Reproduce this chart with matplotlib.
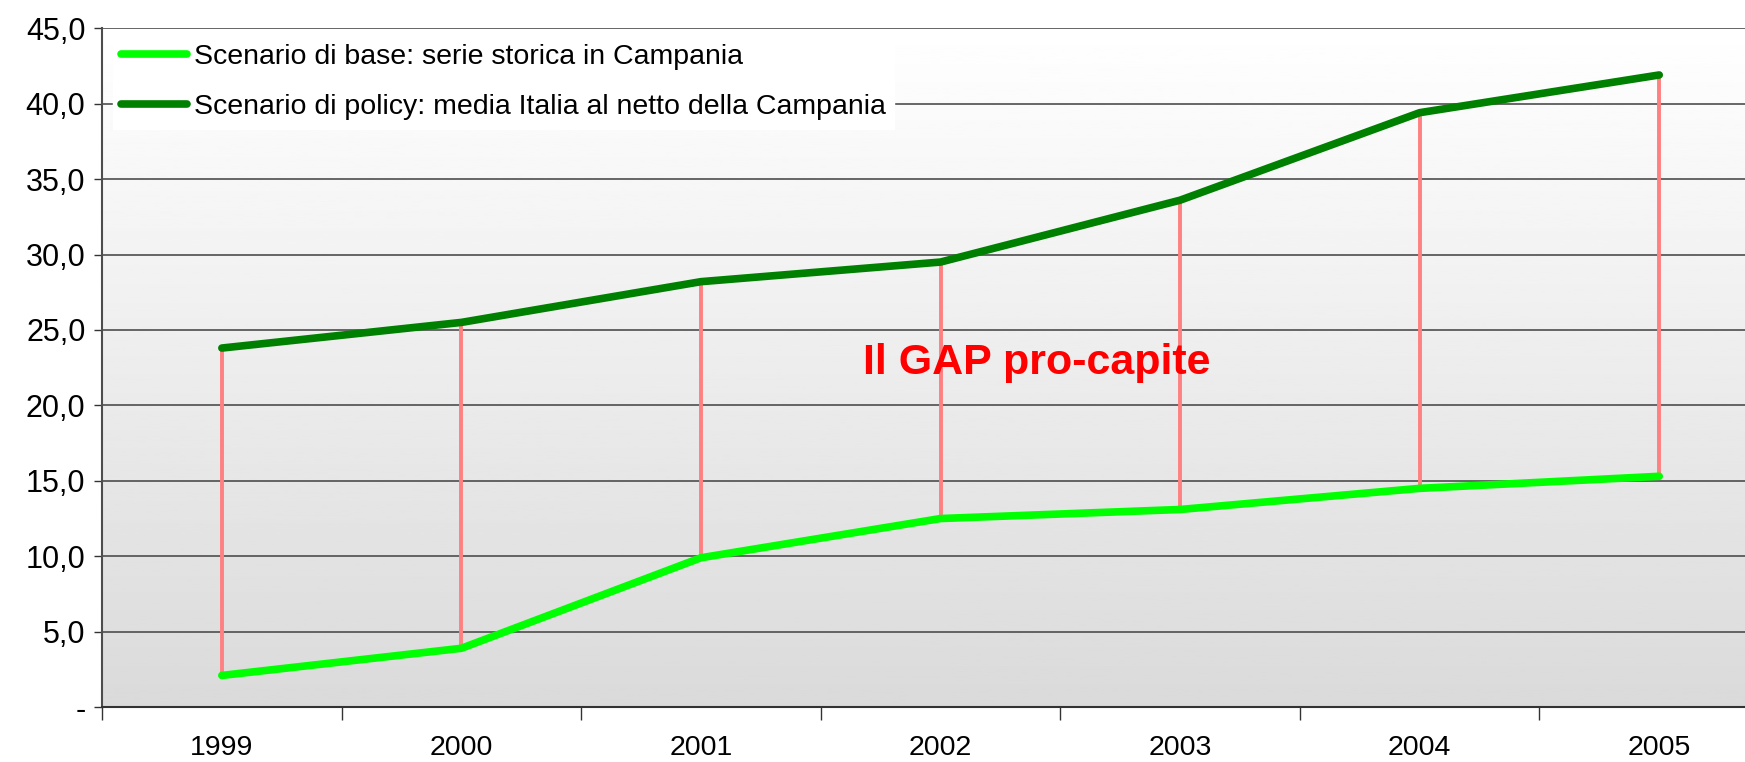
import matplotlib
matplotlib.use('Agg')
import matplotlib.pyplot as plt
import numpy as np
from matplotlib.ticker import FuncFormatter, FixedLocator

# dati
anni = ['1999', '2000', '2001', '2002', '2003', '2004', '2005']
base = [2.1, 3.9, 9.9, 12.5, 13.1, 14.5, 15.3]
policy = [23.8, 25.5, 28.2, 29.5, 33.6, 39.4, 41.9]
etichetta_base = 'Scenario di base: serie storica in Campania'
etichetta_policy = 'Scenario di policy: media Italia al netto della Campania'
testo_gap = 'Il GAP pro-capite'

plt.rcParams['font.family'] = ['Liberation Sans', 'DejaVu Sans']

fig = plt.figure(figsize=(17.45, 7.62), dpi=100)
ax = fig.add_axes([0.0585, 0.072, 0.95, 0.891])

x = np.arange(len(anni))
ax.set_xlim(-0.5, 6.42)
ax.set_ylim(0, 45)

# sfondo sfumato
grad = np.linspace(1.0, 0.855, 256).reshape(-1, 1)
ax.imshow(grad, cmap='gray', vmin=0, vmax=1, aspect='auto',
          extent=[0, 1, 0, 1], transform=ax.transAxes, zorder=0)

for v in range(5, 50, 5):
    ax.axhline(v, color='#4d4d4d', lw=1.2, zorder=1)

# linee del gap
ax.vlines(x, base, policy, color='#ff8080', lw=2.8, zorder=2)

ax.plot(x, base, color='#00ff00', lw=5.5, solid_capstyle='round',
        solid_joinstyle='round', label=etichetta_base, zorder=3)
ax.plot(x, policy, color='#008000', lw=5.5, solid_capstyle='round',
        solid_joinstyle='round', label=etichetta_policy, zorder=3)

ax.text(3.4, 22.8, testo_gap, color='red', fontsize=31, fontweight='bold',
        ha='center', va='center', zorder=4)

ax.set_yticks(range(0, 50, 5))
ax.yaxis.set_major_formatter(FuncFormatter(
    lambda v, p: '-' if v == 0 else f'{v:.1f}'.replace('.', ',')))
ax.tick_params(axis='y', labelsize=22, length=6, width=1, color='#333333', pad=6)

ax.xaxis.set_major_locator(FixedLocator(np.arange(-0.5, 7, 1)))
ax.xaxis.set_minor_locator(FixedLocator(x))
ax.set_xticklabels([], minor=False)
ax.set_xticklabels(anni, minor=True)
ax.tick_params(axis='x', which='major', length=9, width=1, color='#333333', direction='out')
ax.tick_params(axis='x', which='minor', length=0, labelsize=20.5, pad=20)

for s in ['top', 'right']:
    ax.spines[s].set_visible(False)
ax.spines['left'].set_color('#4d4d4d')
ax.spines['left'].set_linewidth(1.5)
ax.spines['bottom'].set_color('#333333')
ax.spines['bottom'].set_linewidth(1.5)

leg = ax.legend(loc='upper left', bbox_to_anchor=(0.003, 0.998), fontsize=20.5,
                frameon=True, fancybox=False, handlelength=2.3, handletextpad=0.25,
                labelspacing=0.85, borderpad=0.3, borderaxespad=0.2)
leg.get_frame().set_facecolor('white')
leg.get_frame().set_edgecolor('white')
leg.get_frame().set_alpha(1)
leg.set_zorder(5)
for h in leg.get_lines():
    h.set_linewidth(5.5)
    h.set_solid_capstyle('round')

fig.savefig('out.png', dpi=100)
